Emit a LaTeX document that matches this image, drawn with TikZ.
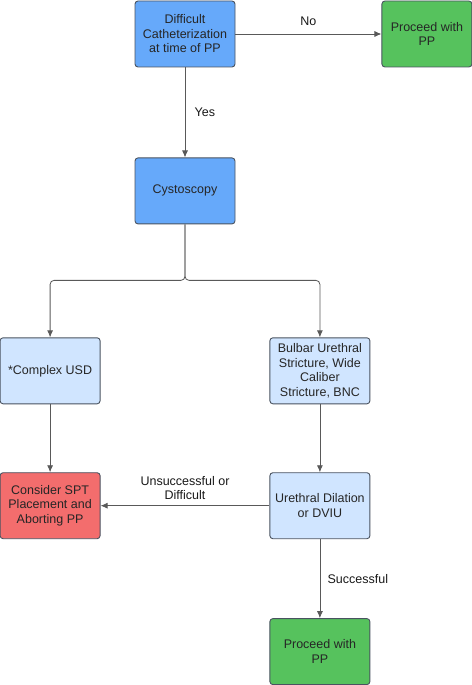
\documentclass[tikz,border=0pt]{standalone}
\usepackage{fontspec}
\setmainfont{Liberation Sans}
\usetikzlibrary{arrows.meta,positioning}
\definecolor{deepblue}{HTML}{66A9FA}
\definecolor{paleblue}{HTML}{D0E5FF}
\definecolor{okgreen}{HTML}{56C25D}
\definecolor{stopred}{HTML}{F36D6D}
\definecolor{edgegray}{HTML}{4A5360}

\begin{document}
\begin{tikzpicture}[font=\fontsize{12.5}{14.5}\selectfont,>={Latex[length=7pt,width=6pt]},
 box/.style={draw=edgegray,line width=0.9pt,rounded corners=3pt,minimum width=100pt,minimum height=66pt,inner xsep=2pt,align=center,text=black!85},
 flow/.style={->,line width=0.8pt,black!65},
 tag/.style={text=black!90,align=center}]
\path[use as bounding box] (0,0) rectangle (471pt,-685pt);

\node[box,fill=deepblue] (difficult) at (185pt,-34pt) {Difficult\\Catheterization\\at time of PP};
\node[box,fill=okgreen,minimum width=90pt,right=146pt of difficult] (proceedtop) {Proceed with\\PP};
\node[box,fill=deepblue,below=90pt of difficult] (cysto) {Cystoscopy};
\draw[flow] (difficult) -- node[tag,above=5pt]{No} (proceedtop);
\draw[flow] (difficult) -- node[tag,right=6pt]{Yes} (cysto);

\node[box,fill=paleblue,below left=113pt and 34pt of cysto] (complex) {*Complex USD};
\node[box,fill=paleblue,below right=113pt and 34pt of cysto] (bulbar) {Bulbar Urethral\\Stricture, Wide\\Caliber\\Stricture, BNC};
\coordinate (split) at ([yshift=-56pt]cysto.south);
\draw[flow,rounded corners=4pt] (cysto.south) -- (split) -| (complex.north);
\draw[flow,rounded corners=4pt] (cysto.south) -- (split) -| (bulbar.north);

\node[box,fill=stopred,below=68pt of complex] (consider) {Consider SPT\\Placement and\\Aborting PP};
\node[box,fill=paleblue,below=68pt of bulbar] (dilation) {Urethral Dilation\\or DVIU};
\node[box,fill=okgreen,below=79pt of dilation] (proceedbottom) {Proceed with\\PP};
\draw[flow] (complex) -- (consider);
\draw[flow] (bulbar) -- (dilation);
\draw[flow] (dilation) -- node[tag,above=2pt]{Unsuccessful or\\Difficult} (consider);
\draw[flow] (dilation) -- node[tag,right=4pt]{Successful} (proceedbottom);
\end{tikzpicture}
\end{document}
